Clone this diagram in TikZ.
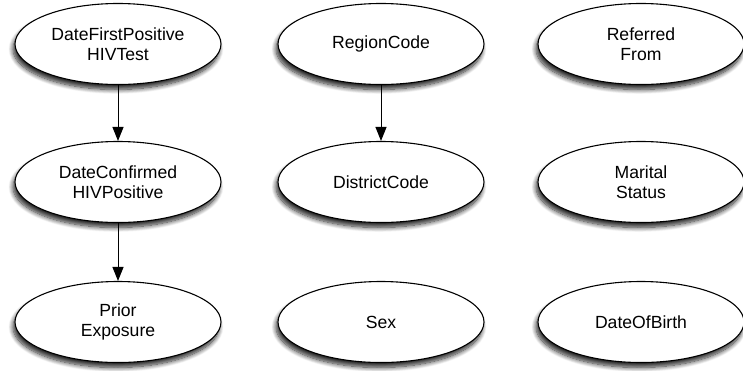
\documentclass[tikz,border=0pt]{standalone}
\usepackage{fontspec}
\setmainfont{Liberation Sans}
\usetikzlibrary{shapes.geometric,shadows.blur,arrows.meta}
\begin{document}
\begin{tikzpicture}[x=1pt,y=-1pt,
  attr/.style={ellipse,draw=black,line width=1.1pt,fill=white,
    minimum width=206pt,minimum height=81pt,inner sep=0pt,align=center,
    font=\fontsize{17.6}{20.5}\selectfont,
    blur shadow={shadow xshift=-2pt,shadow yshift=-5pt,shadow blur steps=10,shadow blur radius=4.5pt,shadow opacity=85}},
  link/.style={draw=black,line width=1pt,-{Triangle[width=11pt,length=14pt]}}]
\useasboundingbox (0,0) rectangle (743,370);
\node[attr] (dfp) at (118,44) {DateFirstPositive\\HIVTest};
\node[attr] (rc) at (381,44) {RegionCode};
\node[attr] (rf) at (641,44) {Referred\\From};
\node[attr] (dch) at (118,182) {DateConfirmed\\HIVPositive};
\node[attr] (dc) at (381,182) {DistrictCode};
\node[attr] (ms) at (641,182) {Marital\\Status};
\node[attr] (pe) at (118,322) {Prior\\Exposure};
\node[attr] (sx) at (381,322) {Sex};
\node[attr] (dob) at (641,322) {DateOfBirth};
\draw[link] (dfp) -- (dch);
\draw[link] (rc) -- (dc);
\draw[link] (dch) -- (pe);
\end{tikzpicture}
\end{document}
